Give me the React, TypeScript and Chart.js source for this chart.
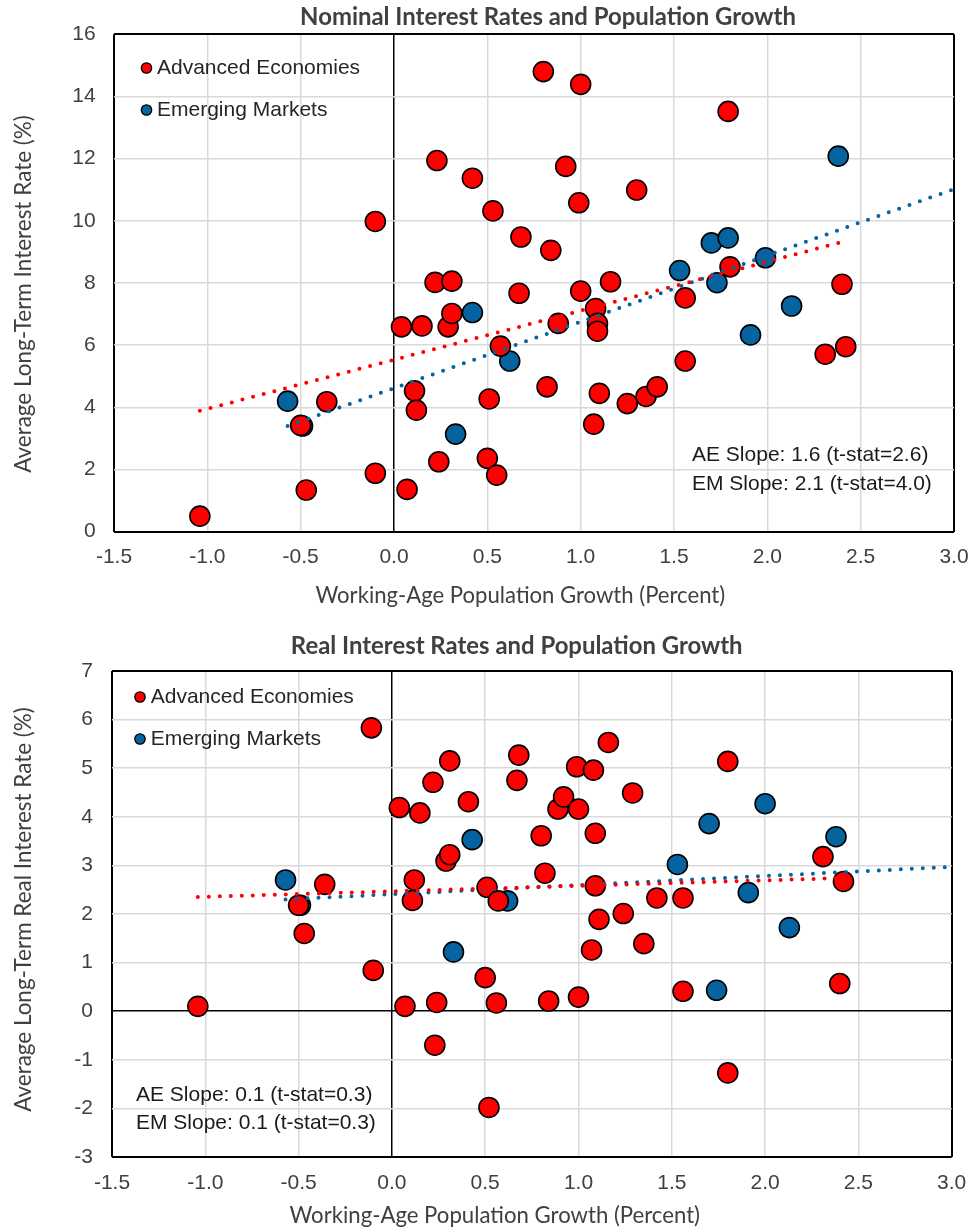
import React, { useEffect, useRef } from 'react';
import { Chart, registerables } from 'chart.js';

Chart.register(...registerables);

// ---------------- Data ----------------
const seriesLabels = ['Advanced Economies', 'Emerging Markets'];

// Nominal chart – Advanced Economies
const nominalAeX = [-1.04, -0.5, -0.47, -0.36, -0.1, -0.1, 0.04, 0.07, 0.11, 0.12, 0.15, 0.22, 0.23, 0.24, 0.29, 0.31, 0.31, 0.42, 0.5, 0.51, 0.53, 0.55, 0.57, 0.67, 0.68, 0.8, 0.82, 0.84, 0.88, 0.92, 0.99, 1.0, 1.0, 1.07, 1.08, 1.09, 1.09, 1.1, 1.16, 1.25, 1.3, 1.35, 1.41, 1.56, 1.56, 1.79, 1.8, 2.31, 2.4, 2.42];
const nominalAeY = [0.5, 3.42, 1.34, 4.18, 9.98, 1.88, 6.59, 1.36, 4.53, 3.91, 6.62, 8.02, 11.94, 2.25, 6.59, 8.06, 7.02, 11.37, 2.36, 4.27, 10.32, 1.82, 5.97, 7.67, 9.48, 14.8, 4.66, 9.05, 6.7, 11.75, 10.58, 14.39, 7.74, 3.46, 7.18, 6.7, 6.45, 4.45, 8.04, 4.12, 10.99, 4.35, 4.66, 7.52, 5.49, 13.52, 8.52, 5.71, 7.96, 5.95];
// Nominal chart – Emerging Markets
const nominalEmX = [-0.57, -0.49, 0.33, 0.42, 0.62, 1.53, 1.7, 1.73, 1.79, 1.91, 1.99, 2.13, 2.38];
const nominalEmY = [4.2, 3.4, 3.14, 7.05, 5.49, 8.4, 9.29, 8.01, 9.45, 6.33, 8.81, 7.26, 12.08];
// Nominal chart – fitted lines (end points)
const nominalAeTrendX = [-1.04, 2.42];
const nominalAeTrendY = [3.89, 9.35];
const nominalEmTrendX = [-0.57, 3.0];
const nominalEmTrendY = [3.4, 11.02];
const nominalNotes = ['AE Slope: 1.6 (t-stat=2.6)', 'EM Slope: 2.1 (t-stat=4.0)'];

// Real chart – Advanced Economies
const realAeX = [-1.04, -0.5, -0.47, -0.36, -0.11, -0.1, 0.04, 0.07, 0.11, 0.12, 0.15, 0.22, 0.23, 0.24, 0.29, 0.31, 0.31, 0.41, 0.5, 0.51, 0.52, 0.56, 0.57, 0.67, 0.68, 0.8, 0.82, 0.84, 0.89, 0.92, 0.99, 1.0, 1.0, 1.07, 1.08, 1.09, 1.09, 1.11, 1.16, 1.24, 1.29, 1.35, 1.42, 1.56, 1.56, 1.8, 1.8, 2.31, 2.4, 2.42];
const realAeY = [0.1, 2.18, 1.6, 2.61, 5.83, 0.84, 4.19, 0.1, 2.28, 2.7, 4.08, 4.71, -0.7, 0.18, 3.09, 3.22, 5.15, 4.31, 0.69, 2.55, -1.98, 0.17, 2.27, 4.75, 5.27, 3.61, 2.84, 0.21, 4.16, 4.41, 5.03, 4.16, 0.29, 1.26, 4.96, 3.66, 2.58, 1.89, 5.53, 2.01, 4.49, 1.39, 2.33, 2.33, 0.41, 5.14, -1.27, 3.18, 0.57, 2.67];
// Real chart – Emerging Markets
const realEmX = [-0.57, -0.49, 0.33, 0.43, 0.62, 1.53, 1.7, 1.74, 1.91, 2.0, 2.13, 2.38];
const realEmY = [2.7, 2.18, 1.22, 3.53, 2.27, 3.02, 3.86, 0.43, 2.44, 4.27, 1.72, 3.59];
// Real chart – fitted lines (end points)
const realAeTrendX = [-1.04, 2.42];
const realAeTrendY = [2.35, 2.74];
const realEmTrendX = [-0.57, 3.0];
const realEmTrendY = [2.3, 2.97];
const realNotes = ['AE Slope: 0.1 (t-stat=0.3)', 'EM Slope: 0.1 (t-stat=0.3)'];

// Axes
const xRange = [-1.5, 3.0];
const xStep = 0.5;
const nominalYRange = [0, 16];
const nominalYStep = 2;
const realYRange = [-3, 7];
const realYStep = 1;

const nominalTitle = 'Nominal Interest Rates and Population Growth';
const realTitle = 'Real Interest Rates and Population Growth';
const xAxisTitle = 'Working-Age Population Growth (Percent)';
const nominalYAxisTitle = 'Average Long-Term Interest Rate (%)';
const realYAxisTitle = 'Average Long-Term Real Interest Rate (%)';

// ---------------- Styles ----------------
const RED = '#FF0000';
const BLUE = '#0563A0';
const GRID = '#D9D9D9';
const TEXT_DARK = '#404040';
const ARIAL = '"Liberation Sans", Arial, sans-serif';
const CALIBRI = 'Lato, "Open Sans", sans-serif';

const pts = (xs: number[], ys: number[]) => xs.map((x, i) => ({ x, y: ys[i] }));

const near = (a: number, b: number) => Math.abs(a - b) < 1e-6;

function fitSize(ctx: CanvasRenderingContext2D, text: string, weight: string, family: string, width: number) {
  ctx.font = `${weight} 100px ${family}`;
  const w = ctx.measureText(text).width;
  return (100 * width) / w;
}

const figureText = {
  id: 'figureText',
  afterDraw(chart: any, _args: any, opts: any) {
    const ctx: CanvasRenderingContext2D = chart.ctx;
    ctx.save();
    // titles
    (opts.texts || []).forEach((t: any) => {
      const size = fitSize(ctx, t.text, t.weight, CALIBRI, t.width);
      ctx.font = `${t.weight} ${size}px ${CALIBRI}`;
      ctx.fillStyle = t.color;
      ctx.textAlign = 'center';
      ctx.textBaseline = 'middle';
      ctx.save();
      ctx.translate(t.x, t.y);
      if (t.rotate) ctx.rotate(-Math.PI / 2);
      ctx.fillText(t.text, 0, 0);
      ctx.restore();
    });
    // legend
    const lg = opts.legend;
    const items = chart.data.datasets.filter((d: any) => !d.showLine);
    items.forEach((d: any, i: number) => {
      const y = lg.y[i];
      ctx.beginPath();
      ctx.arc(lg.markerX, y, lg.radius, 0, Math.PI * 2);
      ctx.fillStyle = d.backgroundColor;
      ctx.fill();
      ctx.lineWidth = 1.3;
      ctx.strokeStyle = '#000';
      ctx.stroke();
      ctx.font = `21px ${ARIAL}`;
      ctx.fillStyle = '#262626';
      ctx.textAlign = 'left';
      ctx.textBaseline = 'middle';
      ctx.fillText(d.label, lg.textX, y);
    });
    // notes
    const nt = opts.notes;
    nt.lines.forEach((line: string, i: number) => {
      ctx.font = `21px ${ARIAL}`;
      ctx.fillStyle = '#1a1a1a';
      ctx.textAlign = 'left';
      ctx.textBaseline = 'middle';
      ctx.fillText(line, nt.x, nt.y[i]);
    });
    ctx.restore();
  },
};

function buildConfig(p: any) {
  const [ymin, ymax] = p.yRange;
  const [xmin, xmax] = xRange;
  const trend = (xs: number[], ys: number[], color: string) => ({
    label: '',
    data: pts(xs, ys),
    showLine: true,
    borderColor: color,
    backgroundColor: color,
    borderWidth: 4,
    borderDash: [0, 11],
    borderCapStyle: 'round',
    pointRadius: 0,
    pointHoverRadius: 0,
    fill: false,
    order: 0,
  });
  return {
    type: 'scatter',
    data: {
      datasets: [
        {
          label: seriesLabels[0],
          data: pts(p.aeX, p.aeY),
          backgroundColor: RED,
          borderColor: '#000',
          borderWidth: 1.6,
          pointRadius: 10,
          order: 1,
        },
        {
          label: seriesLabels[1],
          data: pts(p.emX, p.emY),
          backgroundColor: BLUE,
          borderColor: '#000',
          borderWidth: 1.6,
          pointRadius: 10,
          order: 2,
        },
        trend(p.aeTX, p.aeTY, RED),
        trend(p.emTX, p.emTY, BLUE),
      ],
    },
    options: {
      responsive: false,
      animation: false,
      events: [],
      layout: { padding: { top: p.padTop, right: p.padRight, left: 0, bottom: 0 } },
      plugins: {
        legend: { display: false },
        tooltip: { enabled: false },
        title: { display: false },
        figureText: {
          texts: [
            { text: p.title, x: p.titlePos[0], y: p.titlePos[1], width: p.titlePos[2], weight: 'bold', color: TEXT_DARK },
            { text: xAxisTitle, x: p.xTitlePos[0], y: p.xTitlePos[1], width: p.xTitlePos[2], weight: 'normal', color: TEXT_DARK },
            { text: p.yTitle, x: p.yTitlePos[0], y: p.yTitlePos[1], width: p.yTitlePos[2], weight: 'normal', color: TEXT_DARK, rotate: true },
          ],
          legend: { markerX: p.legend[0], textX: p.legend[1], y: p.legend[2], radius: 5.2 },
          notes: { lines: p.notes, x: p.notesPos[0], y: p.notesPos[1] },
        },
      },
      scales: {
        x: {
          type: 'linear',
          min: xmin,
          max: xmax,
          ticks: {
            stepSize: xStep,
            autoSkip: false,
            maxRotation: 0,
            padding: p.xTickPad,
            color: TEXT_DARK,
            font: { family: ARIAL, size: 21 },
            callback: (v: any) => Number(v).toFixed(1),
          },
          grid: {
            drawTicks: false,
            color: (c: any) => (c.tick && (near(c.tick.value, xmin) || near(c.tick.value, xmax) || near(c.tick.value, 0)) ? '#000' : GRID),
            lineWidth: (c: any) => (c.tick && (near(c.tick.value, xmin) || near(c.tick.value, xmax)) ? 2 : 1.5),
          },
          border: { display: false },
          afterFit: (s: any) => {
            s.height = p.xAxisH;
            s.paddingLeft = 0;
            s.paddingRight = 0;
          },
        },
        y: {
          type: 'linear',
          min: ymin,
          max: ymax,
          ticks: {
            stepSize: p.yStep,
            autoSkip: false,
            padding: p.yTickPad,
            color: TEXT_DARK,
            font: { family: ARIAL, size: 21 },
          },
          grid: {
            drawTicks: false,
            color: (c: any) => (c.tick && (near(c.tick.value, ymin) || near(c.tick.value, ymax) || near(c.tick.value, 0)) ? '#000' : GRID),
            lineWidth: (c: any) => (c.tick && (near(c.tick.value, ymin) || near(c.tick.value, ymax)) ? 2 : 1.5),
          },
          border: { display: false },
          afterFit: (s: any) => {
            s.width = p.yAxisW;
            s.paddingTop = 0;
            s.paddingBottom = 0;
          },
        },
      },
    },
    plugins: [figureText],
  };
}

const nominalPanel = {
  aeX: nominalAeX, aeY: nominalAeY, emX: nominalEmX, emY: nominalEmY,
  aeTX: nominalAeTrendX, aeTY: nominalAeTrendY, emTX: nominalEmTrendX, emTY: nominalEmTrendY,
  yRange: nominalYRange, yStep: nominalYStep,
  title: nominalTitle, yTitle: nominalYAxisTitle, notes: nominalNotes,
  padTop: 34.3, padRight: 17, yAxisW: 114, xAxisH: 83.3,
  xTickPad: 12.5, yTickPad: 18.3,
  titlePos: [548, 17, 496], xTitlePos: [520.3, 596, 410], yTitlePos: [24, 294, 358],
  legend: [146.5, 157, [68, 110]],
  notesPos: [692, [455, 484]],
};

const realPanel = {
  aeX: realAeX, aeY: realAeY, emX: realEmX, emY: realEmY,
  aeTX: realAeTrendX, aeTY: realAeTrendY, emTX: realEmTrendX, emTY: realEmTrendY,
  yRange: realYRange, yStep: realYStep,
  title: realTitle, yTitle: realYAxisTitle, notes: realNotes,
  padTop: 56, padRight: 19.3, yAxisW: 112, xAxisH: 73,
  xTickPad: 14, yTickPad: 19,
  titlePos: [516.7, 31, 452], xTitlePos: [494.7, 600.5, 411], yTitlePos: [24, 294.5, 405],
  legend: [140, 150.7, [82, 124]],
  notesPos: [136, [480, 508.3]],
};

function Panel({ panel, top }: { panel: any; top: number }) {
  const ref = useRef<HTMLCanvasElement | null>(null);
  useEffect(() => {
    if (!ref.current) return;
    const chart = new Chart(ref.current, buildConfig(panel) as any);
    return () => chart.destroy();
  }, [panel]);
  return (
    <canvas
      ref={ref}
      width={971}
      height={615}
      style={{ position: 'absolute', left: 0, top, width: 971, height: 615, display: 'block' }}
    />
  );
}

export default function App() {
  return (
    <div style={{ position: 'absolute', left: 0, top: 0, width: 971, height: 1230, background: '#fff' }}>
      <Panel panel={nominalPanel} top={0} />
      <Panel panel={realPanel} top={615} />
    </div>
  );
}
